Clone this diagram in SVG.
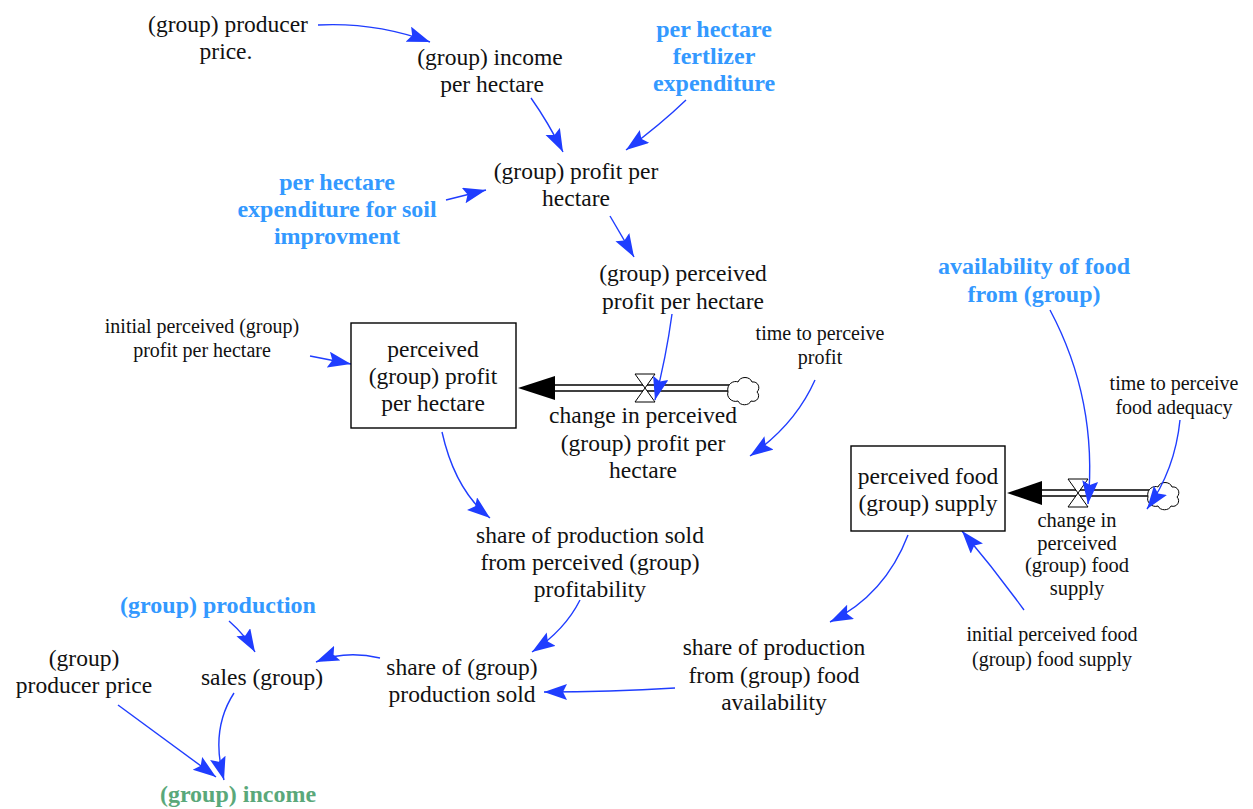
<svg xmlns="http://www.w3.org/2000/svg" width="1253" height="809" viewBox="0 0 1253 809">
  <style>
    text { font-family: "Liberation Serif", "Times New Roman", serif; text-anchor: middle; }
    .t { font-size: 23.5px; fill: #111; }
    .s { font-size: 20px; fill: #111; }
    .b { font-size: 24px; font-weight: bold; fill: #3399ff; }
    .g { font-size: 24px; font-weight: bold; fill: #5aa87a; }
    .tight { font-size: 20.5px; }
    .link { fill: none; stroke: #1f3dff; stroke-width: 1.4; marker-end: url(#ah); }
    .box { fill: #fff; stroke: #000; stroke-width: 1.4; }
    .pipe { fill: none; stroke: #000; stroke-width: 1.3; }
    .valve { fill: #fff; stroke: #000; stroke-width: 1; }
    .cloud { fill: #fff; stroke: #000; stroke-width: 1; }
  </style>
  <defs>
    <marker id="ah" markerUnits="userSpaceOnUse" markerWidth="26" markerHeight="18" refX="23" refY="8" orient="auto">
      <path d="M0,0 L23,8 L0,16 L4,8 z" fill="#1f3dff"/>
    </marker>
  </defs>

  <rect width="1253" height="809" fill="#fff"/>

  <!-- flows (pipes, valves, clouds) -->
  <g id="flow-profit">
    <line class="pipe" x1="552" y1="385" x2="730" y2="385"/>
    <line class="pipe" x1="552" y1="391" x2="730" y2="391"/>
    <path d="M518,388 L555,376 L555,400 z" fill="#000"/>
    <path class="valve" d="M635,374 L655,374 L645,388 z M635,402 L655,402 L645,388 z"/>
    <path class="cloud" d="M728,392 c-2,-8 6,-12 10,-10 c2,-6 12,-6 14,0 c6,-1 9,6 5,10 c4,4 0,11 -6,9 c-2,5 -11,5 -13,0 c-6,2 -12,-4 -10,-9 z"/>
  </g>
  <g id="flow-food">
    <line class="pipe" x1="1038" y1="490" x2="1150" y2="490"/>
    <line class="pipe" x1="1038" y1="496" x2="1150" y2="496"/>
    <path d="M1007,493 L1042,481 L1042,505 z" fill="#000"/>
    <path class="valve" d="M1068,479 L1088,479 L1078,493 z M1068,507 L1088,507 L1078,493 z"/>
    <path class="cloud" d="M1148,497 c-2,-8 6,-12 10,-10 c2,-6 12,-6 14,0 c6,-1 9,6 5,10 c4,4 0,11 -6,9 c-2,5 -11,5 -13,0 c-6,2 -12,-4 -10,-9 z"/>
  </g>

  <!-- connectors -->
  <g id="connectors">
    <path class="link" d="M318,25 Q375,22 430,42"/>
    <path class="link" d="M531,98 Q548,122 563,152"/>
    <path class="link" d="M686,100 Q660,125 626,150"/>
    <path class="link" d="M446,200 L486,190"/>
    <path class="link" d="M610,216 L634,257"/>
    <path class="link" d="M672,314 Q666,358 655,400"/>
    <path class="link" d="M310,356 L351,364"/>
    <path class="link" d="M815,380 Q795,425 750,456"/>
    <path class="link" d="M442,432 Q455,490 490,518"/>
    <path class="link" d="M580,600 Q565,630 532,652"/>
    <path class="link" d="M380,658 Q345,650 316,662"/>
    <path class="link" d="M229,621 Q245,635 255,652"/>
    <path class="link" d="M234,693 Q210,730 224,780"/>
    <path class="link" d="M118,705 L216,777"/>
    <path class="link" d="M908,535 Q885,595 830,622"/>
    <path class="link" d="M675,688 Q610,692 544,692"/>
    <path class="link" d="M1024,610 Q995,570 962,531"/>
    <path class="link" d="M1050,310 Q1098,400 1088,504"/>
    <path class="link" d="M1180,420 Q1175,470 1147,509"/>
  </g>

  <!-- variables -->
  <g id="producer-price-dot">
    <text class="t" x="228" y="32">(group) producer</text>
    <text class="t" x="226" y="59">price.</text>
  </g>
  <g id="income-per-hectare">
    <text class="t" x="490" y="65">(group) income</text>
    <text class="t" x="492" y="92">per hectare</text>
  </g>
  <g id="fertilizer-expenditure">
    <text class="b" x="714" y="37">per hectare</text>
    <text class="b" x="714" y="64">fertlizer</text>
    <text class="b" x="714" y="91">expenditure</text>
  </g>
  <g id="profit-per-hectare">
    <text class="t" x="576" y="179">(group) profit per</text>
    <text class="t" x="576" y="206">hectare</text>
  </g>
  <g id="soil-expenditure">
    <text class="b" x="337" y="190">per hectare</text>
    <text class="b" x="337" y="217">expenditure for soil</text>
    <text class="b" x="337" y="244">improvment</text>
  </g>
  <g id="perceived-profit-input">
    <text class="t" x="683" y="281">(group) perceived</text>
    <text class="t" x="683" y="309">profit per hectare</text>
  </g>
  <g id="initial-perceived-profit">
    <text class="s" x="202" y="333">initial perceived (group)</text>
    <text class="s" x="202" y="357">profit per hectare</text>
  </g>
  <g id="perceived-profit-stock">
    <rect class="box" x="351" y="323" width="165" height="105"/>
    <text class="t" x="433" y="357">perceived</text>
    <text class="t" x="433" y="384">(group) profit</text>
    <text class="t" x="433" y="411">per hectare</text>
  </g>
  <g id="change-perceived-profit">
    <text class="t" x="643" y="423">change in perceived</text>
    <text class="t" x="643" y="451">(group) profit per</text>
    <text class="t" x="643" y="478">hectare</text>
  </g>
  <g id="time-perceive-profit">
    <text class="s" x="820" y="340">time to perceive</text>
    <text class="s" x="820" y="364">profit</text>
  </g>
  <g id="food-availability">
    <text class="b" x="1034" y="274">availability of food</text>
    <text class="b" x="1034" y="302">from (group)</text>
  </g>
  <g id="time-perceive-food">
    <text class="s" x="1174" y="390">time to perceive</text>
    <text class="s" x="1174" y="414">food adequacy</text>
  </g>
  <g id="perceived-food-stock">
    <rect class="box" x="851" y="446" width="154" height="85"/>
    <text class="t" x="928" y="484">perceived food</text>
    <text class="t" x="928" y="511">(group) supply</text>
  </g>
  <g id="change-perceived-food">
    <text class="t tight" x="1077" y="527">change in</text>
    <text class="t tight" x="1077" y="549.5">perceived</text>
    <text class="t tight" x="1077" y="572">(group) food</text>
    <text class="t tight" x="1077" y="594.5">supply</text>
  </g>
  <g id="initial-perceived-food">
    <text class="s" x="1052" y="641">initial perceived food</text>
    <text class="s" x="1052" y="666">(group) food supply</text>
  </g>
  <g id="share-sold-profitability">
    <text class="t" x="590" y="543">share of production sold</text>
    <text class="t" x="590" y="570">from perceived (group)</text>
    <text class="t" x="590" y="597">profitability</text>
  </g>
  <g id="group-production">
    <text class="b" x="218" y="613">(group) production</text>
  </g>
  <g id="sales">
    <text class="t" x="262" y="685">sales (group)</text>
  </g>
  <g id="producer-price">
    <text class="t" x="84" y="666">(group)</text>
    <text class="t" x="84" y="693">producer price</text>
  </g>
  <g id="share-production-sold">
    <text class="t" x="462" y="675">share of (group)</text>
    <text class="t" x="462" y="702">production sold</text>
  </g>
  <g id="share-food-availability">
    <text class="t" x="774" y="655">share of production</text>
    <text class="t" x="774" y="683">from (group) food</text>
    <text class="t" x="774" y="710">availability</text>
  </g>
  <g id="group-income">
    <text class="g" x="238" y="802">(group) income</text>
  </g>
</svg>
